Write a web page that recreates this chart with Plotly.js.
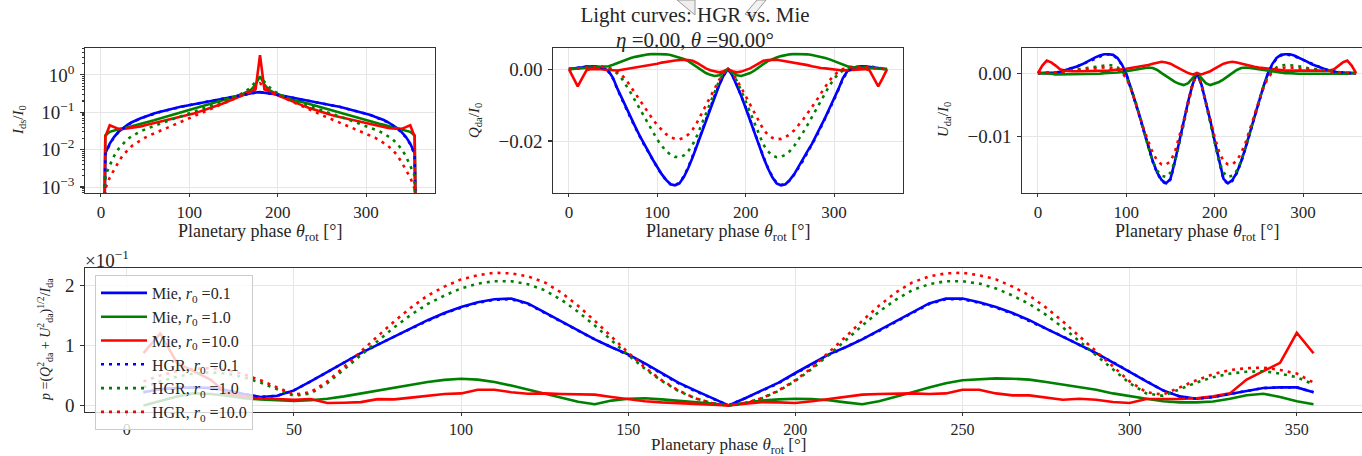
<!DOCTYPE html>
<html><head><meta charset="utf-8">
<script src="https://cdn.plot.ly/plotly-3.0.1.min.js"></script>
<style>html,body{margin:0;padding:0;overflow:hidden;background:#fff}#chart{width:1380px;height:456px}</style>
</head><body><div id="chart"></div>
<script>
// ---------- categories ----------
const phaseTop = [0,5,10,15,20,25,30,35,40,45,50,55,60,65,70,75,80,85,90,95,100,105,110,115,120,125,130,135,140,145,150,155,160,165,170,175,180,
185,190,195,200,205,210,215,220,225,230,235,240,245,250,255,260,265,270,275,280,285,290,295,300,305,310,315,320,325,330,335,340,345,350,355,360];
const phaseBottom = [5,10,15,20,25,30,35,40,45,50,55,60,65,70,75,80,85,90,95,100,105,110,115,120,125,130,135,140,145,150,155,160,165,170,175,180,
185,190,195,200,205,210,215,220,225,230,235,240,245,250,255,260,265,270,275,280,285,290,295,300,305,310,315,320,325,330,335,340,345,350,355];

// ---------- I_ds / I_0 ----------
const I_mie01 = [0,0.008,0.0145,0.022,0.030,0.038,0.046,0.054,0.062,0.069,0.076,0.085,0.093,0.100,0.108,0.116,0.124,0.132,0.141,0.148,0.156,0.165,0.175,0.185,0.195,0.204,0.214,0.224,0.235,0.248,0.262,0.277,0.293,0.309,0.324,0.337,0.345,
0.337,0.324,0.309,0.293,0.277,0.262,0.248,0.235,0.224,0.214,0.204,0.195,0.185,0.175,0.165,0.156,0.148,0.141,0.132,0.124,0.116,0.108,0.100,0.093,0.085,0.076,0.069,0.062,0.054,0.046,0.038,0.030,0.022,0.0145,0.008,0];
const I_mie1 = [0,0.024,0.030,0.033,0.035,0.037,0.040,0.043,0.046,0.049,0.053,0.057,0.061,0.066,0.071,0.077,0.083,0.090,0.097,0.105,0.114,0.123,0.133,0.144,0.156,0.168,0.180,0.193,0.207,0.225,0.248,0.275,0.305,0.345,0.40,0.55,0.92,
0.55,0.40,0.345,0.305,0.275,0.248,0.225,0.207,0.193,0.180,0.168,0.156,0.144,0.133,0.123,0.114,0.105,0.097,0.090,0.083,0.077,0.071,0.066,0.061,0.057,0.053,0.049,0.046,0.043,0.040,0.037,0.035,0.033,0.030,0.024,0];
const I_mie10 = [0,0.022,0.045,0.040,0.036,0.036,0.037,0.038,0.040,0.042,0.045,0.048,0.051,0.055,0.059,0.062,0.065,0.070,0.075,0.080,0.086,0.093,0.101,0.110,0.120,0.132,0.146,0.162,0.180,0.200,0.225,0.252,0.283,0.318,0.355,0.41,3.4,
0.41,0.355,0.318,0.283,0.252,0.225,0.200,0.180,0.162,0.146,0.132,0.120,0.110,0.101,0.093,0.086,0.080,0.075,0.070,0.065,0.062,0.059,0.055,0.051,0.048,0.045,0.042,0.040,0.038,0.037,0.036,0.036,0.040,0.045,0.022,0];
const I_hgr01 = [0,0.0075,0.014,0.0215,0.0295,0.0375,0.0455,0.0535,0.0615,0.0685,0.0755,0.084,0.092,0.099,0.107,0.115,0.123,0.131,0.140,0.147,0.155,0.164,0.174,0.184,0.194,0.203,0.213,0.223,0.234,0.247,0.261,0.276,0.292,0.308,0.323,0.336,0.344,
0.336,0.323,0.308,0.292,0.276,0.261,0.247,0.234,0.223,0.213,0.203,0.194,0.184,0.174,0.164,0.155,0.147,0.140,0.131,0.123,0.115,0.107,0.099,0.092,0.084,0.0755,0.0685,0.0615,0.0535,0.0455,0.0375,0.0295,0.0215,0.014,0.0075,0];
const I_hgr1 = [0,0.002,0.0038,0.0068,0.0105,0.0145,0.019,0.023,0.027,0.031,0.035,0.039,0.043,0.048,0.053,0.058,0.064,0.070,0.077,0.085,0.093,0.102,0.112,0.123,0.136,0.150,0.166,0.184,0.205,0.22,0.245,0.28,0.32,0.38,0.48,0.65,0.88,
0.65,0.48,0.38,0.32,0.28,0.245,0.22,0.205,0.184,0.166,0.150,0.136,0.123,0.112,0.102,0.093,0.085,0.077,0.070,0.064,0.058,0.053,0.048,0.043,0.039,0.035,0.031,0.027,0.023,0.019,0.0145,0.0105,0.0068,0.0038,0.002,0];
const I_hgr10 = [0,0.0009,0.0018,0.003,0.0047,0.0072,0.0098,0.0125,0.015,0.018,0.021,0.024,0.027,0.030,0.034,0.038,0.043,0.048,0.054,0.060,0.067,0.075,0.084,0.094,0.106,0.120,0.136,0.155,0.177,0.20,0.225,0.255,0.29,0.33,0.39,0.48,0.60,
0.48,0.39,0.33,0.29,0.255,0.225,0.20,0.177,0.155,0.136,0.120,0.106,0.094,0.084,0.075,0.067,0.060,0.054,0.048,0.043,0.038,0.034,0.030,0.027,0.024,0.021,0.018,0.015,0.0125,0.0098,0.0072,0.0047,0.003,0.0018,0.0009,0];

// ---------- Q_da / I_0 ----------
const Q_mie01 = [0,0.0001,0.0003,0.0005,0.0007,0.0008,0.0008,0.0006,0.0002,-0.0006,-0.0025,-0.0055,-0.0082,-0.0108,-0.0135,-0.0160,-0.0185,-0.0208,-0.0228,-0.0252,-0.0272,-0.0292,-0.0308,-0.0320,-0.0323,-0.0318,-0.0300,-0.0275,-0.0245,-0.0212,-0.0178,-0.0143,-0.0108,-0.0075,-0.0045,-0.0018,0,
-0.0018,-0.0045,-0.0075,-0.0108,-0.0143,-0.0178,-0.0212,-0.0245,-0.0275,-0.0300,-0.0318,-0.0323,-0.0320,-0.0308,-0.0292,-0.0272,-0.0252,-0.0228,-0.0208,-0.0185,-0.0160,-0.0135,-0.0108,-0.0082,-0.0055,-0.0025,-0.0006,0.0002,0.0006,0.0008,0.0008,0.0007,0.0005,0.0003,0.0001,0];
const Q_mie1 = [0,0.0001,0.0002,0.0002,0.0003,0.0003,0.0004,0.0005,0.0006,0.0008,0.0012,0.0017,0.0022,0.0027,0.0031,0.0034,0.0037,0.0039,0.0041,0.0042,0.0042,0.0042,0.0041,0.0039,0.0036,0.0032,0.0028,0.0022,0.0014,0.0006,-0.0004,-0.0011,-0.0016,-0.0019,-0.0017,-0.0009,0,
-0.0009,-0.0017,-0.0019,-0.0016,-0.0011,-0.0004,0.0006,0.0014,0.0022,0.0028,0.0032,0.0036,0.0039,0.0041,0.0042,0.0042,0.0042,0.0041,0.0039,0.0037,0.0034,0.0031,0.0027,0.0022,0.0017,0.0012,0.0008,0.0006,0.0005,0.0004,0.0003,0.0003,0.0002,0.0002,0.0001,0];
const Q_mie10 = [0,-0.0025,-0.0048,-0.0025,-0.0003,0.0000,0.0001,0.0000,-0.0002,-0.0003,-0.0004,-0.0004,-0.0002,0.0000,0.0002,0.0003,0.0005,0.0008,0.0011,0.0013,0.0015,0.0018,0.0021,0.0022,0.0024,0.0026,0.0026,0.0025,0.0023,0.0017,0.0009,0.0002,-0.0003,-0.0007,-0.0009,-0.0006,0,
-0.0006,-0.0009,-0.0007,-0.0003,0.0002,0.0009,0.0017,0.0023,0.0025,0.0026,0.0026,0.0024,0.0022,0.0021,0.0018,0.0015,0.0013,0.0011,0.0008,0.0005,0.0003,0.0002,0.0000,-0.0002,-0.0004,-0.0004,-0.0003,-0.0002,0.0000,0.0001,0.0000,-0.0003,-0.0025,-0.0048,-0.0025,0];
const Q_hgr01 = [0,0.0001,0.0003,0.0005,0.0007,0.0008,0.0008,0.0006,0.0001,-0.0008,-0.0027,-0.0057,-0.0085,-0.0111,-0.0137,-0.0162,-0.0187,-0.0210,-0.0231,-0.0254,-0.0274,-0.0293,-0.0309,-0.0320,-0.0322,-0.0316,-0.0298,-0.0273,-0.0243,-0.0210,-0.0176,-0.0141,-0.0106,-0.0073,-0.0044,-0.0018,0,
-0.0018,-0.0044,-0.0073,-0.0106,-0.0141,-0.0176,-0.0210,-0.0243,-0.0273,-0.0298,-0.0316,-0.0322,-0.0320,-0.0309,-0.0293,-0.0274,-0.0254,-0.0231,-0.0210,-0.0187,-0.0162,-0.0137,-0.0111,-0.0085,-0.0057,-0.0027,-0.0008,0.0001,0.0006,0.0008,0.0008,0.0007,0.0005,0.0003,0.0001,0];
const Q_hgr1 = [0,0.0001,0.0002,0.0003,0.0005,0.0006,0.0007,0.0007,0.0005,0.0002,-0.0004,-0.0013,-0.0027,-0.0045,-0.0066,-0.0088,-0.0110,-0.0133,-0.0155,-0.0176,-0.0196,-0.0213,-0.0228,-0.0238,-0.0244,-0.0245,-0.0240,-0.0228,-0.0210,-0.0185,-0.0155,-0.0123,-0.0090,-0.0060,-0.0033,-0.0012,0,
-0.0012,-0.0033,-0.0060,-0.0090,-0.0123,-0.0155,-0.0185,-0.0210,-0.0228,-0.0240,-0.0245,-0.0244,-0.0238,-0.0228,-0.0213,-0.0196,-0.0176,-0.0155,-0.0133,-0.0110,-0.0088,-0.0066,-0.0045,-0.0027,-0.0013,-0.0004,0.0002,0.0005,0.0007,0.0007,0.0006,0.0005,0.0003,0.0002,0.0001,0];
const Q_hgr10 = [0,0.0001,0.0002,0.0003,0.0005,0.0006,0.0007,0.0007,0.0006,0.0004,0.0000,-0.0007,-0.0017,-0.0031,-0.0049,-0.0068,-0.0088,-0.0106,-0.0123,-0.0140,-0.0156,-0.0170,-0.0181,-0.0189,-0.0194,-0.0195,-0.0191,-0.0182,-0.0168,-0.0148,-0.0125,-0.0100,-0.0075,-0.0052,-0.0030,-0.0012,0,
-0.0012,-0.0030,-0.0052,-0.0075,-0.0100,-0.0125,-0.0148,-0.0168,-0.0182,-0.0191,-0.0195,-0.0194,-0.0189,-0.0181,-0.0170,-0.0156,-0.0140,-0.0123,-0.0106,-0.0088,-0.0068,-0.0049,-0.0031,-0.0017,-0.0007,0.0000,0.0004,0.0006,0.0007,0.0007,0.0006,0.0005,0.0003,0.0002,0.0001,0];

// ---------- U_da / I_0 ----------
const U_mie01 = [0,0,0,0.0001,0.0001,0.0002,0.0004,0.0006,0.0008,0.0011,0.0014,0.0018,0.0021,0.0025,0.0028,0.0030,0.0030,0.0029,0.0024,0.0014,-0.0001,-0.0022,-0.0045,-0.0068,-0.0093,-0.0118,-0.0140,-0.0158,-0.0170,-0.0175,-0.0168,-0.0140,-0.0108,-0.0075,-0.0045,-0.0018,0,
-0.0018,-0.0045,-0.0075,-0.0108,-0.0140,-0.0168,-0.0175,-0.0170,-0.0158,-0.0140,-0.0118,-0.0093,-0.0068,-0.0045,-0.0022,-0.0001,0.0014,0.0024,0.0029,0.0030,0.0030,0.0028,0.0025,0.0021,0.0018,0.0014,0.0011,0.0008,0.0006,0.0004,0.0002,0.0001,0.0001,0,0,0];
const U_mie1 = [0,0,-0.0001,-0.0001,-0.0002,-0.0002,-0.0002,-0.0002,-0.0002,-0.0002,-0.0001,-0.0001,-0.0001,-0.0001,-0.0001,0,0,0,0.0001,0.0002,0.0003,0.0004,0.0006,0.0007,0.0008,0.0009,0.0008,0.0005,0.0000,-0.0005,-0.0010,-0.0014,-0.0017,-0.0019,-0.0016,-0.0008,0,
-0.0008,-0.0016,-0.0019,-0.0017,-0.0014,-0.0010,-0.0005,0.0000,0.0005,0.0008,0.0009,0.0008,0.0007,0.0006,0.0004,0.0003,0.0002,0.0001,0,0,0,-0.0001,-0.0001,-0.0001,-0.0001,-0.0001,-0.0002,-0.0002,-0.0002,-0.0002,-0.0002,-0.0002,-0.0001,-0.0001,0,0];
const U_mie10 = [0,0.0012,0.0020,0.0017,0.0012,0.0006,0.0004,0.0003,0.0003,0.0003,0.0003,0.0003,0.0003,0.0003,0.0004,0.0004,0.0004,0.0005,0.0005,0.0006,0.0007,0.0008,0.0009,0.0010,0.0011,0.0013,0.0015,0.0017,0.0018,0.0017,0.0015,0.0011,0.0007,0.0003,0.0000,-0.0002,0,
-0.0002,0.0000,0.0003,0.0007,0.0011,0.0015,0.0017,0.0018,0.0017,0.0015,0.0013,0.0011,0.0010,0.0009,0.0008,0.0007,0.0006,0.0005,0.0005,0.0004,0.0004,0.0004,0.0003,0.0003,0.0003,0.0003,0.0003,0.0003,0.0003,0.0004,0.0006,0.0012,0.0017,0.0020,0.0012,0];
const U_hgr01 = [0,0,0,0.0001,0.0001,0.0002,0.0004,0.0006,0.0008,0.0011,0.0014,0.0017,0.0021,0.0024,0.0027,0.0029,0.0030,0.0028,0.0023,0.0013,-0.0002,-0.0023,-0.0046,-0.0069,-0.0094,-0.0119,-0.0141,-0.0159,-0.0171,-0.0176,-0.0169,-0.0141,-0.0109,-0.0076,-0.0046,-0.0018,0,
-0.0018,-0.0046,-0.0076,-0.0109,-0.0141,-0.0169,-0.0176,-0.0171,-0.0159,-0.0141,-0.0119,-0.0094,-0.0069,-0.0046,-0.0023,-0.0002,0.0013,0.0023,0.0028,0.0030,0.0029,0.0027,0.0024,0.0021,0.0017,0.0014,0.0011,0.0008,0.0006,0.0004,0.0002,0.0001,0.0001,0,0,0];
const U_hgr1 = [0,0,0,0.0001,0.0001,0.0002,0.0003,0.0004,0.0005,0.0006,0.0007,0.0008,0.0009,0.0011,0.0012,0.0013,0.0013,0.0012,0.0009,0.0003,-0.0006,-0.0022,-0.0043,-0.0068,-0.0094,-0.0118,-0.0140,-0.0155,-0.0163,-0.0165,-0.0158,-0.0140,-0.0112,-0.0080,-0.0048,-0.0018,0,
-0.0018,-0.0048,-0.0080,-0.0112,-0.0140,-0.0158,-0.0165,-0.0163,-0.0155,-0.0140,-0.0118,-0.0094,-0.0068,-0.0043,-0.0022,-0.0006,0.0003,0.0009,0.0012,0.0013,0.0013,0.0012,0.0011,0.0009,0.0008,0.0007,0.0006,0.0005,0.0004,0.0003,0.0002,0.0001,0.0001,0,0,0];
const U_hgr10 = [0,0,0,0.0001,0.0001,0.0002,0.0003,0.0003,0.0004,0.0005,0.0005,0.0006,0.0007,0.0008,0.0008,0.0009,0.0009,0.0008,0.0006,0.0001,-0.0008,-0.0024,-0.0044,-0.0067,-0.0090,-0.0110,-0.0127,-0.0139,-0.0145,-0.0145,-0.0140,-0.0125,-0.0102,-0.0075,-0.0045,-0.0017,0,
-0.0017,-0.0045,-0.0075,-0.0102,-0.0125,-0.0140,-0.0145,-0.0145,-0.0139,-0.0127,-0.0110,-0.0090,-0.0067,-0.0044,-0.0024,-0.0008,0.0001,0.0006,0.0008,0.0009,0.0009,0.0008,0.0008,0.0007,0.0006,0.0005,0.0005,0.0004,0.0003,0.0003,0.0002,0.0001,0.0001,0,0,0];

// ---------- degree of polarisation p, in units of 1e-1 (axis offset ×10^-1) ----------
const P_UNIT = 0.1;
const p_mie01 = [0.22,0.27,0.29,0.30,0.29,0.25,0.19,0.14,0.16,0.25,0.40,0.56,0.72,0.87,1.01,1.15,1.28,1.42,1.54,1.64,1.72,1.77,1.78,1.70,1.55,1.40,1.25,1.10,0.97,0.85,0.70,0.54,0.38,0.25,0.12,0.00,
0.12,0.25,0.38,0.54,0.70,0.85,0.97,1.10,1.25,1.40,1.55,1.70,1.78,1.78,1.72,1.64,1.54,1.42,1.28,1.15,1.01,0.87,0.72,0.56,0.40,0.25,0.15,0.11,0.14,0.19,0.25,0.29,0.30,0.30,0.22];
const p_mie1 = [0.00,0.07,0.15,0.20,0.19,0.16,0.12,0.10,0.085,0.075,0.085,0.11,0.15,0.20,0.25,0.30,0.35,0.39,0.425,0.445,0.43,0.39,0.33,0.26,0.19,0.12,0.06,0.02,0.08,0.11,0.12,0.10,0.08,0.05,0.03,0.00,
0.04,0.08,0.10,0.11,0.105,0.085,0.05,0.02,0.07,0.14,0.22,0.30,0.37,0.42,0.44,0.45,0.445,0.43,0.39,0.35,0.31,0.26,0.20,0.15,0.11,0.07,0.05,0.05,0.065,0.11,0.17,0.195,0.14,0.07,0.02];
const p_mie10 = [0.87,1.20,0.71,0.57,0.43,0.20,0.15,0.12,0.107,0.095,0.107,0.04,0.045,0.055,0.105,0.10,0.13,0.16,0.19,0.20,0.26,0.26,0.22,0.195,0.20,0.19,0.185,0.18,0.14,0.10,0.07,0.05,0.04,0.03,0.015,0.00,
0.03,0.055,0.05,0.04,0.07,0.11,0.15,0.18,0.19,0.20,0.20,0.19,0.20,0.26,0.26,0.20,0.167,0.167,0.13,0.095,0.11,0.095,0.057,0.04,0.107,0.107,0.107,0.12,0.15,0.20,0.43,0.57,0.71,1.21,0.87];
const p_hgr01 = [0.22,0.27,0.29,0.30,0.29,0.25,0.19,0.14,0.16,0.25,0.40,0.56,0.72,0.87,1.01,1.15,1.28,1.41,1.53,1.63,1.71,1.76,1.77,1.69,1.54,1.39,1.24,1.10,0.97,0.84,0.69,0.53,0.37,0.24,0.12,0.00,
0.12,0.24,0.37,0.53,0.69,0.84,0.97,1.10,1.24,1.39,1.54,1.69,1.77,1.77,1.71,1.63,1.53,1.41,1.28,1.15,1.01,0.87,0.72,0.56,0.40,0.25,0.15,0.11,0.14,0.19,0.25,0.29,0.30,0.30,0.22];
const p_hgr1 = [0.30,0.40,0.48,0.53,0.55,0.53,0.47,0.38,0.27,0.16,0.20,0.37,0.60,0.84,1.07,1.30,1.51,1.69,1.83,1.95,2.03,2.07,2.07,2.02,1.92,1.76,1.56,1.33,1.08,0.84,0.61,0.41,0.24,0.12,0.04,0.00,
0.04,0.12,0.24,0.41,0.61,0.84,1.08,1.33,1.56,1.76,1.92,2.02,2.07,2.07,2.03,1.95,1.83,1.69,1.51,1.30,1.07,0.84,0.60,0.37,0.20,0.16,0.27,0.38,0.47,0.53,0.56,0.57,0.53,0.47,0.35];
const p_hgr10 = [0.40,0.50,0.57,0.61,0.62,0.59,0.52,0.42,0.30,0.18,0.22,0.40,0.64,0.90,1.15,1.40,1.63,1.83,1.98,2.10,2.17,2.21,2.20,2.15,2.05,1.88,1.66,1.41,1.14,0.88,0.63,0.42,0.25,0.12,0.04,0.00,
0.04,0.12,0.25,0.42,0.63,0.88,1.14,1.41,1.66,1.88,2.05,2.15,2.20,2.21,2.17,2.10,1.98,1.83,1.63,1.40,1.15,0.90,0.64,0.40,0.22,0.18,0.30,0.42,0.52,0.59,0.62,0.63,0.59,0.53,0.38];

// ---------- tick labels ----------
const xTicksTop = [0,100,200,300];
const xTicksBottom = [0,50,100,150,200,250,300,350];
const iTickVals = [1,0.1,0.01,0.001];
const iTickText = ['10<sup>0</sup>','10<sup>−1</sup>','10<sup>−2</sup>','10<sup>−3</sup>'];
const qTickVals = [0,-0.02];
const qTickText = ['0.00','−0.02'];
const uTickVals = [0,-0.01];
const uTickText = ['0.00','−0.01'];
const pTickVals = [0,1,2];
const pTickText = ['0','1','2'];

// ---------- series styling ----------
const BLUE='#0000ff', GREEN='#008000', RED='#ff0000';
const series = [
  {name:'Mie, <i>r</i><sub>0</sub> =0.1', color:BLUE, dash:'solid', I:I_mie01, Q:Q_mie01, U:U_mie01, p:p_mie01},
  {name:'Mie, <i>r</i><sub>0</sub> =1.0', color:GREEN, dash:'solid', I:I_mie1, Q:Q_mie1, U:U_mie1, p:p_mie1},
  {name:'Mie, <i>r</i><sub>0</sub> =10.0', color:RED, dash:'solid', I:I_mie10, Q:Q_mie10, U:U_mie10, p:p_mie10},
  {name:'HGR, <i>r</i><sub>0</sub> =0.1', color:BLUE, dash:'3px,5px', I:I_hgr01, Q:Q_hgr01, U:U_hgr01, p:p_hgr01},
  {name:'HGR, <i>r</i><sub>0</sub> =1.0', color:GREEN, dash:'3px,5px', I:I_hgr1, Q:Q_hgr1, U:U_hgr1, p:p_hgr1},
  {name:'HGR, <i>r</i><sub>0</sub> =10.0', color:RED, dash:'3px,5px', I:I_hgr10, Q:Q_hgr10, U:U_hgr10, p:p_hgr10}
];

// non-positive values on a log axis are clipped far below the view (as matplotlib does)
const LOG_FLOOR = 1e-12;

const W = 1380, H = 456;
const fx = v => v / W;
const fy = v => 1 - v / H;

const traces = [];
series.forEach(s => {
  const line = {color:s.color, width:2.6, dash:s.dash};
  traces.push({x:phaseTop, y:s.I.map(v => v > 0 ? v : LOG_FLOOR), xaxis:'x', yaxis:'y', mode:'lines', line, showlegend:false, name:s.name, hoverinfo:'skip'});
  traces.push({x:phaseTop, y:s.Q, xaxis:'x2', yaxis:'y2', mode:'lines', line, showlegend:false, name:s.name, hoverinfo:'skip'});
  traces.push({x:phaseTop, y:s.U, xaxis:'x3', yaxis:'y3', mode:'lines', line, showlegend:false, name:s.name, hoverinfo:'skip'});
});
series.forEach(s => {
  traces.push({x:phaseBottom, y:s.p.map(v => v * P_UNIT), xaxis:'x4', yaxis:'y4', mode:'lines',
    line:{color:s.color, width:2.6, dash:s.dash}, showlegend:true, name:s.name, hoverinfo:'skip'});
});

const FONT = 'Liberation Serif, DejaVu Serif, serif';
const TXT = '#262626';
const base = {showline:true, linecolor:'#333', linewidth:1.2, mirror:true, ticks:'outside', ticklen:3,
  tickwidth:1.1, tickcolor:'#333', showgrid:true, gridcolor:'#e6e6e6', gridwidth:1, zeroline:false,
  tickfont:{size:17, color:TXT}, automargin:false};
const xBase = Object.assign({}, base);
const yBase = Object.assign({}, base, {ticklen:3.5, ticklabelstandoff:2, tickfont:{size:19, color:TXT}});

const X_TITLE = 'Planetary phase <i>θ</i><sub>rot</sub> [°]';
function label(text, x, y, size, angle) {
  return {text, xref:'paper', yref:'paper', x:fx(x), y:fy(y), xanchor:'center', yanchor:'middle',
    showarrow:false, textangle:angle || 0, font:{size, color:TXT}};
}

const layout = {
  width:W, height:H, autosize:false,
  margin:{l:0, r:0, t:0, b:0, pad:0},
  paper_bgcolor:'#fff', plot_bgcolor:'#fff',
  font:{family:FONT, color:TXT},
  showlegend:true,
  title:{text:'Light curves: HGR vs. Mie', x:fx(695), xanchor:'center', xref:'paper',
    y:fy(15), yanchor:'middle', yref:'container', font:{size:21, color:TXT}},
  xaxis: Object.assign({}, xBase, {domain:[fx(85), fx(435)], range:[-18,378], tickmode:'array', tickvals:xTicksTop, anchor:'y'}),
  yaxis: Object.assign({}, yBase, {domain:[fy(193), fy(48)], type:'log', range:[-3.16,0.72], tickmode:'array', tickvals:iTickVals, ticktext:iTickText,
    minor:{ticks:'outside', ticklen:2, tickcolor:'#333', tickmode:'linear', tick0:0, dtick:'D1', showgrid:false}, anchor:'x'}),
  xaxis2: Object.assign({}, xBase, {domain:[fx(553), fx(903)], range:[-18,378], tickmode:'array', tickvals:xTicksTop, anchor:'y2'}),
  yaxis2: Object.assign({}, yBase, {domain:[fy(193), fy(48)], range:[-0.03444,0.00586], tickmode:'array', tickvals:qTickVals, ticktext:qTickText, anchor:'x2'}),
  xaxis3: Object.assign({}, xBase, {domain:[fx(1022), fx(1372)], range:[-18,378], tickmode:'array', tickvals:xTicksTop, anchor:'y3'}),
  yaxis3: Object.assign({}, yBase, {domain:[fy(193), fy(48)], range:[-0.01904,0.00399], tickmode:'array', tickvals:uTickVals, ticktext:uTickText, anchor:'x3'}),
  xaxis4: Object.assign({}, xBase, {domain:[fx(85), fx(1372)], range:[-12.5,372.5], tickmode:'array', tickvals:xTicksBottom, anchor:'y4',
    ticklen:2.5, tickfont:{size:16, color:TXT}}),
  yaxis4: Object.assign({}, yBase, {domain:[fy(412), fy(268)], range:[-0.011,0.229], tickmode:'array',
    tickvals:pTickVals.map(v => v * P_UNIT), ticktext:pTickText, anchor:'x4'}),
  legend:{x:fx(95), y:fy(275), xanchor:'left', yanchor:'top', bgcolor:'rgba(255,255,255,0.8)', bordercolor:'#cccccc', borderwidth:1,
    font:{size:16, color:TXT}, tracegroupgap:0, itemwidth:46},
  annotations:[
    label('<i>η</i> =0.00, <i>θ</i> =90.00°', 695, 40, 21),
    label(X_TITLE, 260, 232, 18),
    label(X_TITLE, 728, 232, 18),
    label(X_TITLE, 1197, 232, 18),
    label(X_TITLE, 728, 445.5, 17),
    label('<i>I</i><sub>ds</sub>/<i>I</i><sub>0</sub>', 19, 120, 15, -90),
    label('<i>Q</i><sub>da</sub>/<i>I</i><sub>0</sub>', 475, 120, 15, -90),
    label('<i>U</i><sub>da</sub>/<i>I</i><sub>0</sub>', 944, 120, 15, -90),
    label('<i>p</i> =(<i>Q</i><sup>2</sup><sub>da</sub> + <i>U</i><sup>2</sup><sub>da</sub>)<sup>1/2</sup>/<i>I</i><sub>da</sub>', 45, 340, 14, -90),
    {text:'×10<sup>−1</sup>', xref:'paper', yref:'paper', x:fx(83), y:fy(259), xanchor:'left', yanchor:'middle', showarrow:false, font:{size:19, color:TXT}}
  ],
  shapes:[
    {type:'path', xref:'paper', yref:'paper', path:`M ${fx(677)},${fy(0)} L ${fx(695)},${fy(0)} L ${fx(695)},${fy(15)} Z`, fillcolor:'#eeeeee', line:{color:'#999', width:1}},
    {type:'path', xref:'paper', yref:'paper', path:`M ${fx(757)},${fy(0)} L ${fx(766)},${fy(0)} L ${fx(752)},${fy(17)} L ${fx(745)},${fy(14)} Z`, fillcolor:'#f2f2f2', line:{color:'#999', width:1}}
  ]
};

Plotly.newPlot('chart', traces, layout, {displayModeBar:false, staticPlot:true});
</script></body></html>
